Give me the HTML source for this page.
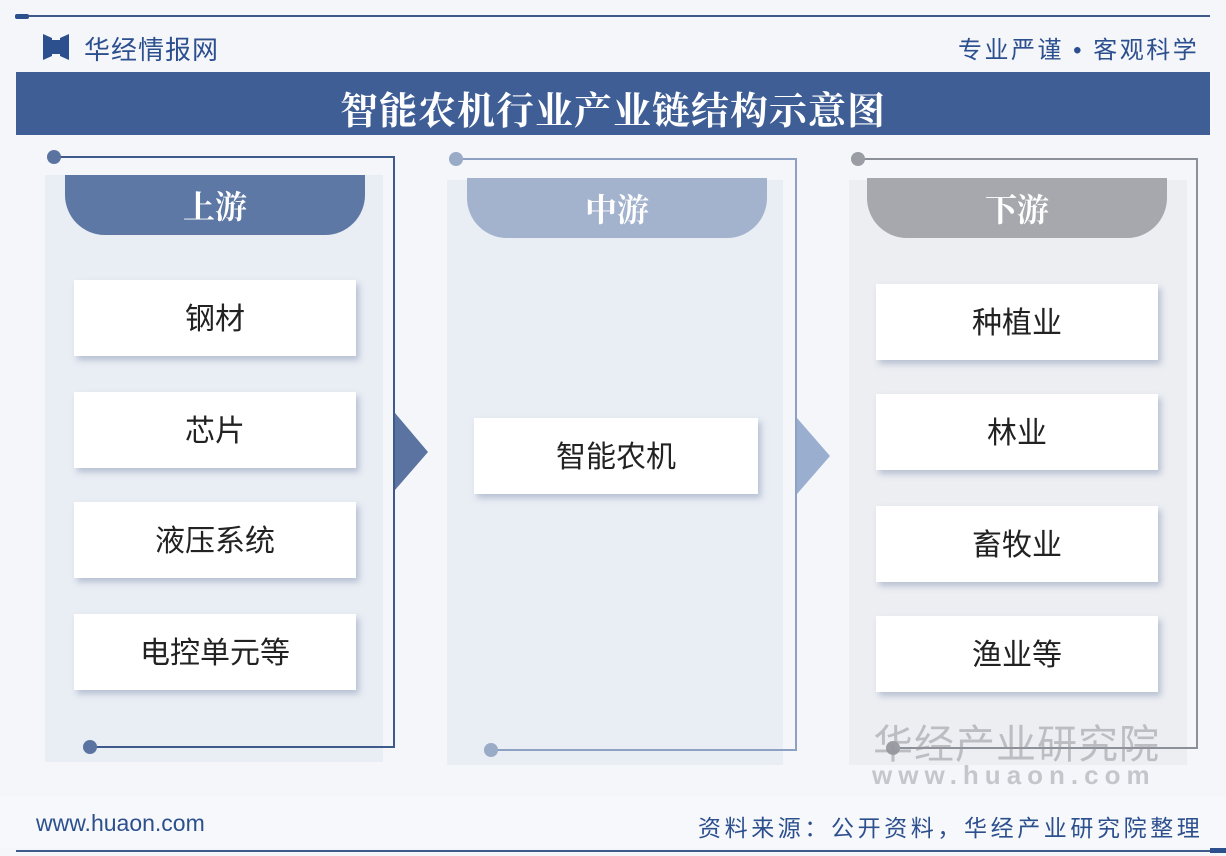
<!DOCTYPE html>
<html><head><meta charset="utf-8"><style>
*{margin:0;padding:0;box-sizing:border-box}
body{width:1226px;height:856px;background:#f4f6fa;position:relative;overflow:hidden;font-family:"Liberation Sans","Noto Sans CJK SC",sans-serif}
.a{position:absolute}
.panel{position:absolute;background:#e9edf4}
.tab{position:absolute;height:60px;border-radius:0 0 40px 40px;color:#fff;font-size:32px;font-weight:bold;text-align:center;line-height:60px;font-family:"Noto Serif CJK SC","Noto Sans CJK SC",serif}
.box{position:absolute;background:#fff;box-shadow:3px 4px 6px rgba(90,110,150,.35);font-size:30px;color:#222;text-align:center;line-height:80px;height:76px}
</style></head><body>
<div class="a" style="left:16px;top:15px;width:1194px;height:2px;background:#3d5a8a"></div>
<div class="a" style="left:15px;top:14px;width:14px;height:5px;background:#2c4f8e;border-radius:2px"></div>
<svg class="a" style="left:43px;top:34px" width="26" height="26"><polygon points="0,0 9,4 9,22 0,26" fill="#2c4f8e"/><polygon points="26,0 17,4 17,22 26,26" fill="#2c4f8e"/><rect x="9" y="6" width="8" height="14" fill="#2c4f8e"/></svg>
<div class="a" style="left:84px;top:30px;font-size:26px;color:#2c4f8e;letter-spacing:1px">华经情报网</div>
<div class="a" style="left:958px;top:30px;font-size:24px;color:#2c4f8e;letter-spacing:2.5px">专业严谨 • 客观科学</div>
<div class="a" style="left:16px;top:72px;width:1194px;height:63px;background:#3f5e95"></div>
<div class="a" style="left:16px;top:80px;width:1194px;text-align:center;font-size:38px;font-weight:bold;color:#fff;font-family:'Noto Serif CJK SC','Noto Sans CJK SC',serif;letter-spacing:1px">智能农机行业产业链结构示意图</div>

<div class="panel" style="left:45px;top:175px;width:338px;height:587px"></div>
<div class="panel" style="left:447px;top:180px;width:336px;height:585px"></div>
<div class="panel" style="left:849px;top:180px;width:338px;height:585px;background:#eceef2"></div>

<svg class="a" style="left:0;top:0" width="1226" height="856">
<polyline points="54,157 394,157 394,747 90,747" fill="none" stroke="#3d5a8a" stroke-width="2"/>
<polyline points="456,159 796,159 796,750 491,750" fill="none" stroke="#8ea1c2" stroke-width="2"/>
<polyline points="858,159 1197,159 1197,748 893,748" fill="none" stroke="#8c9098" stroke-width="2"/>
<circle cx="54" cy="157" r="7" fill="#5b73a0"/><circle cx="90" cy="747" r="7" fill="#5b73a0"/>
<circle cx="456" cy="159" r="7" fill="#9aabc8"/><circle cx="491" cy="750" r="7" fill="#9aabc8"/>
<circle cx="858" cy="159" r="7" fill="#9a9da3"/><circle cx="893" cy="748" r="7" fill="#9a9da3"/>
<polygon points="395,413 428,452 395,490" fill="#5b73a0"/>
<polygon points="797,418 830,456 797,494" fill="#9aaed0"/>
</svg>

<div class="tab" style="left:65px;top:175px;width:300px;background:#5d78a5">上游</div>
<div class="tab" style="left:467px;top:178px;width:300px;background:#a3b3cd">中游</div>
<div class="tab" style="left:867px;top:178px;width:300px;background:#a6a8ad">下游</div>

<div class="box" style="left:74px;top:280px;width:282px">钢材</div>
<div class="box" style="left:74px;top:392px;width:282px">芯片</div>
<div class="box" style="left:74px;top:502px;width:282px">液压系统</div>
<div class="box" style="left:74px;top:614px;width:282px">电控单元等</div>
<div class="box" style="left:474px;top:418px;width:284px">智能农机</div>
<div class="box" style="left:876px;top:284px;width:282px">种植业</div>
<div class="box" style="left:876px;top:394px;width:282px">林业</div>
<div class="box" style="left:876px;top:506px;width:282px">畜牧业</div>
<div class="box" style="left:876px;top:616px;width:282px">渔业等</div>

<div class="a" style="left:873px;top:712px;font-size:40px;color:rgba(150,150,155,.55);letter-spacing:1px">华经产业研究院</div>
<div class="a" style="left:872px;top:760px;font-size:26px;color:rgba(150,150,155,.5);letter-spacing:6px;font-weight:bold">www.huaon.com</div>

<div class="a" style="left:0;top:796px;width:1226px;height:52px;background:#f7f8fb"></div>
<div class="a" style="left:36px;top:810px;font-size:23px;color:#2c4f8e">www.huaon.com</div>
<div class="a" style="left:698px;top:809px;font-size:23px;color:#2c4f8e;letter-spacing:3.6px">资料来源：公开资料，华经产业研究院整理</div>
<div class="a" style="left:16px;top:850px;width:1194px;height:2px;background:#3d5a8a"></div>
<div class="a" style="left:1210px;top:848px;width:16px;height:5px;background:#2c4f8e"></div>
</body></html>
